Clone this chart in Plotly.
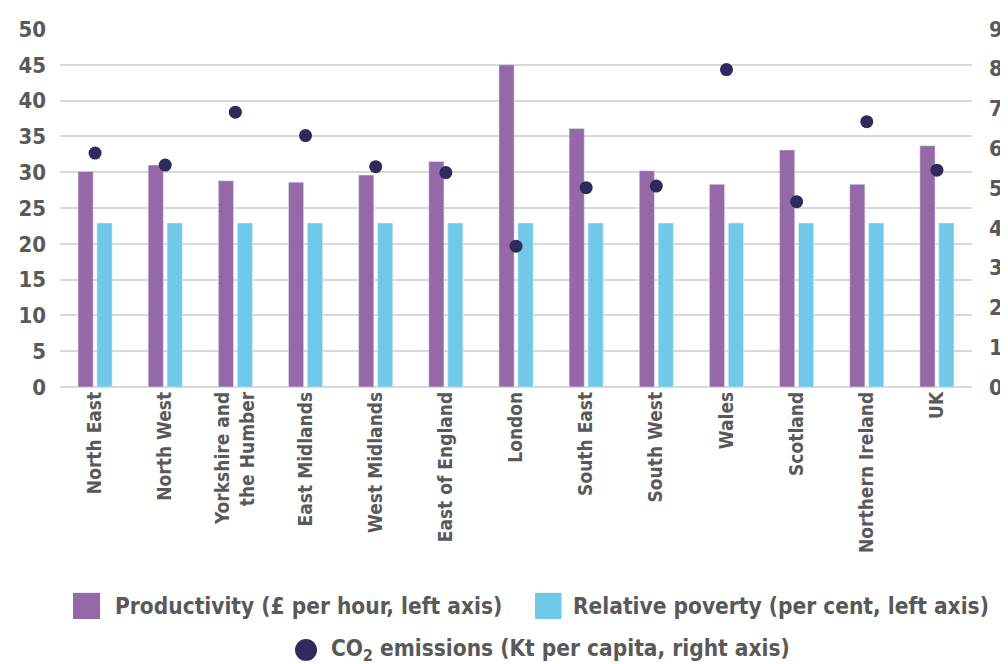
import plotly.graph_objects as go

regions = ["North East", "North West", "Yorkshire and<br>the Humber", "East Midlands",
           "West Midlands", "East of England", "London", "South East", "South West",
           "Wales", "Scotland", "Northern Ireland", "UK"]
productivity = [30.1, 31.0, 28.8, 28.6, 29.6, 31.5, 45.0, 36.1, 30.2, 28.3, 33.1, 28.3, 33.7]
poverty = [22.9, 22.9, 22.9, 22.9, 22.9, 22.9, 22.9, 22.9, 22.9, 22.9, 22.9, 22.9, 22.9]
co2 = [5.88, 5.58, 6.91, 6.32, 5.54, 5.39, 3.54, 5.01, 5.05, 7.98, 4.66, 6.67, 5.45]
series_names = ["Productivity (£ per hour, left axis)",
                "Relative poverty (per cent, left axis)",
                "CO<sub>2</sub> emissions (Kt per capita, right axis)"]

FONT = "Liberation Sans Narrow, DejaVu Sans Condensed, Roboto, sans-serif"
GREY = "#595959"
PURPLE = "#9569A8"
CYAN = "#71C9EA"
NAVY = "#2E2A5C"

fig = go.Figure()
fig.add_trace(go.Bar(x=regions, y=productivity, name=series_names[0],
                     marker=dict(color=PURPLE)))
fig.add_trace(go.Bar(x=regions, y=poverty, name=series_names[1],
                     marker=dict(color=CYAN)))
fig.add_trace(go.Scatter(x=regions, y=co2, yaxis="y2", mode="markers",
                         name=series_names[2],
                         marker=dict(color=NAVY, size=13)))

# legend drawn as swatches + text below the plot
legend_font = dict(size=22.5, family=FONT, color=GREY, weight="bold")
annotations = [
    dict(text=series_names[0], x=0.0581, y=-0.6117, xanchor="left", yanchor="middle"),
    dict(text=series_names[1], x=0.5603, y=-0.6117, xanchor="left", yanchor="middle"),
    dict(text=series_names[2], x=0.2950, y=-0.7346, xanchor="left", yanchor="middle"),
]
for a in annotations:
    a.update(xref="paper", yref="paper", showarrow=False, font=legend_font)

shapes = [
    dict(type="rect", x0=0.0143, x1=0.0439, y0=-0.648, y1=-0.575,
         fillcolor=PURPLE, line=dict(width=0)),
    dict(type="rect", x0=0.5208, x1=0.5499, y0=-0.648, y1=-0.575,
         fillcolor=CYAN, line=dict(width=0)),
    dict(type="circle", x0=0.2577, x1=0.2818, y0=-0.765, y1=-0.704,
         fillcolor=NAVY, line=dict(width=0)),
]
for s in shapes:
    s.update(xref="paper", yref="paper")

# page body adds an 8px offset, so the figure is 8px smaller on each axis
fig.update_layout(
    width=1000, height=656,
    margin=dict(l=52, r=36, t=21, b=277, autoexpand=False),
    paper_bgcolor="white", plot_bgcolor="white",
    font=dict(family=FONT, color=GREY),
    showlegend=False,
    barmode="group", bargap=0.46, bargroupgap=0.2,
    xaxis=dict(range=[-0.5, len(regions) - 0.5], autorange=False,
               tickangle=-90, tickfont=dict(size=19, family=FONT, color=GREY, weight="bold"),
               showline=False, ticks="", automargin=False),
    yaxis=dict(range=[0, 50], dtick=5, showgrid=True, gridcolor="#d9d9d9", gridwidth=2,
               zeroline=True, zerolinecolor="#d9d9d9", zerolinewidth=2,
               tickfont=dict(size=22, family=FONT, color=GREY, weight="bold"),
               ticklabelstandoff=13, automargin=False),
    yaxis2=dict(range=[0, 9], dtick=1, overlaying="y", side="right", showgrid=False,
                zeroline=False,
                tickfont=dict(size=22, family=FONT, color=GREY, weight="bold"),
                ticklabelstandoff=16, automargin=False),
    annotations=annotations,
    shapes=shapes,
)

fig.write_html("out.html")
